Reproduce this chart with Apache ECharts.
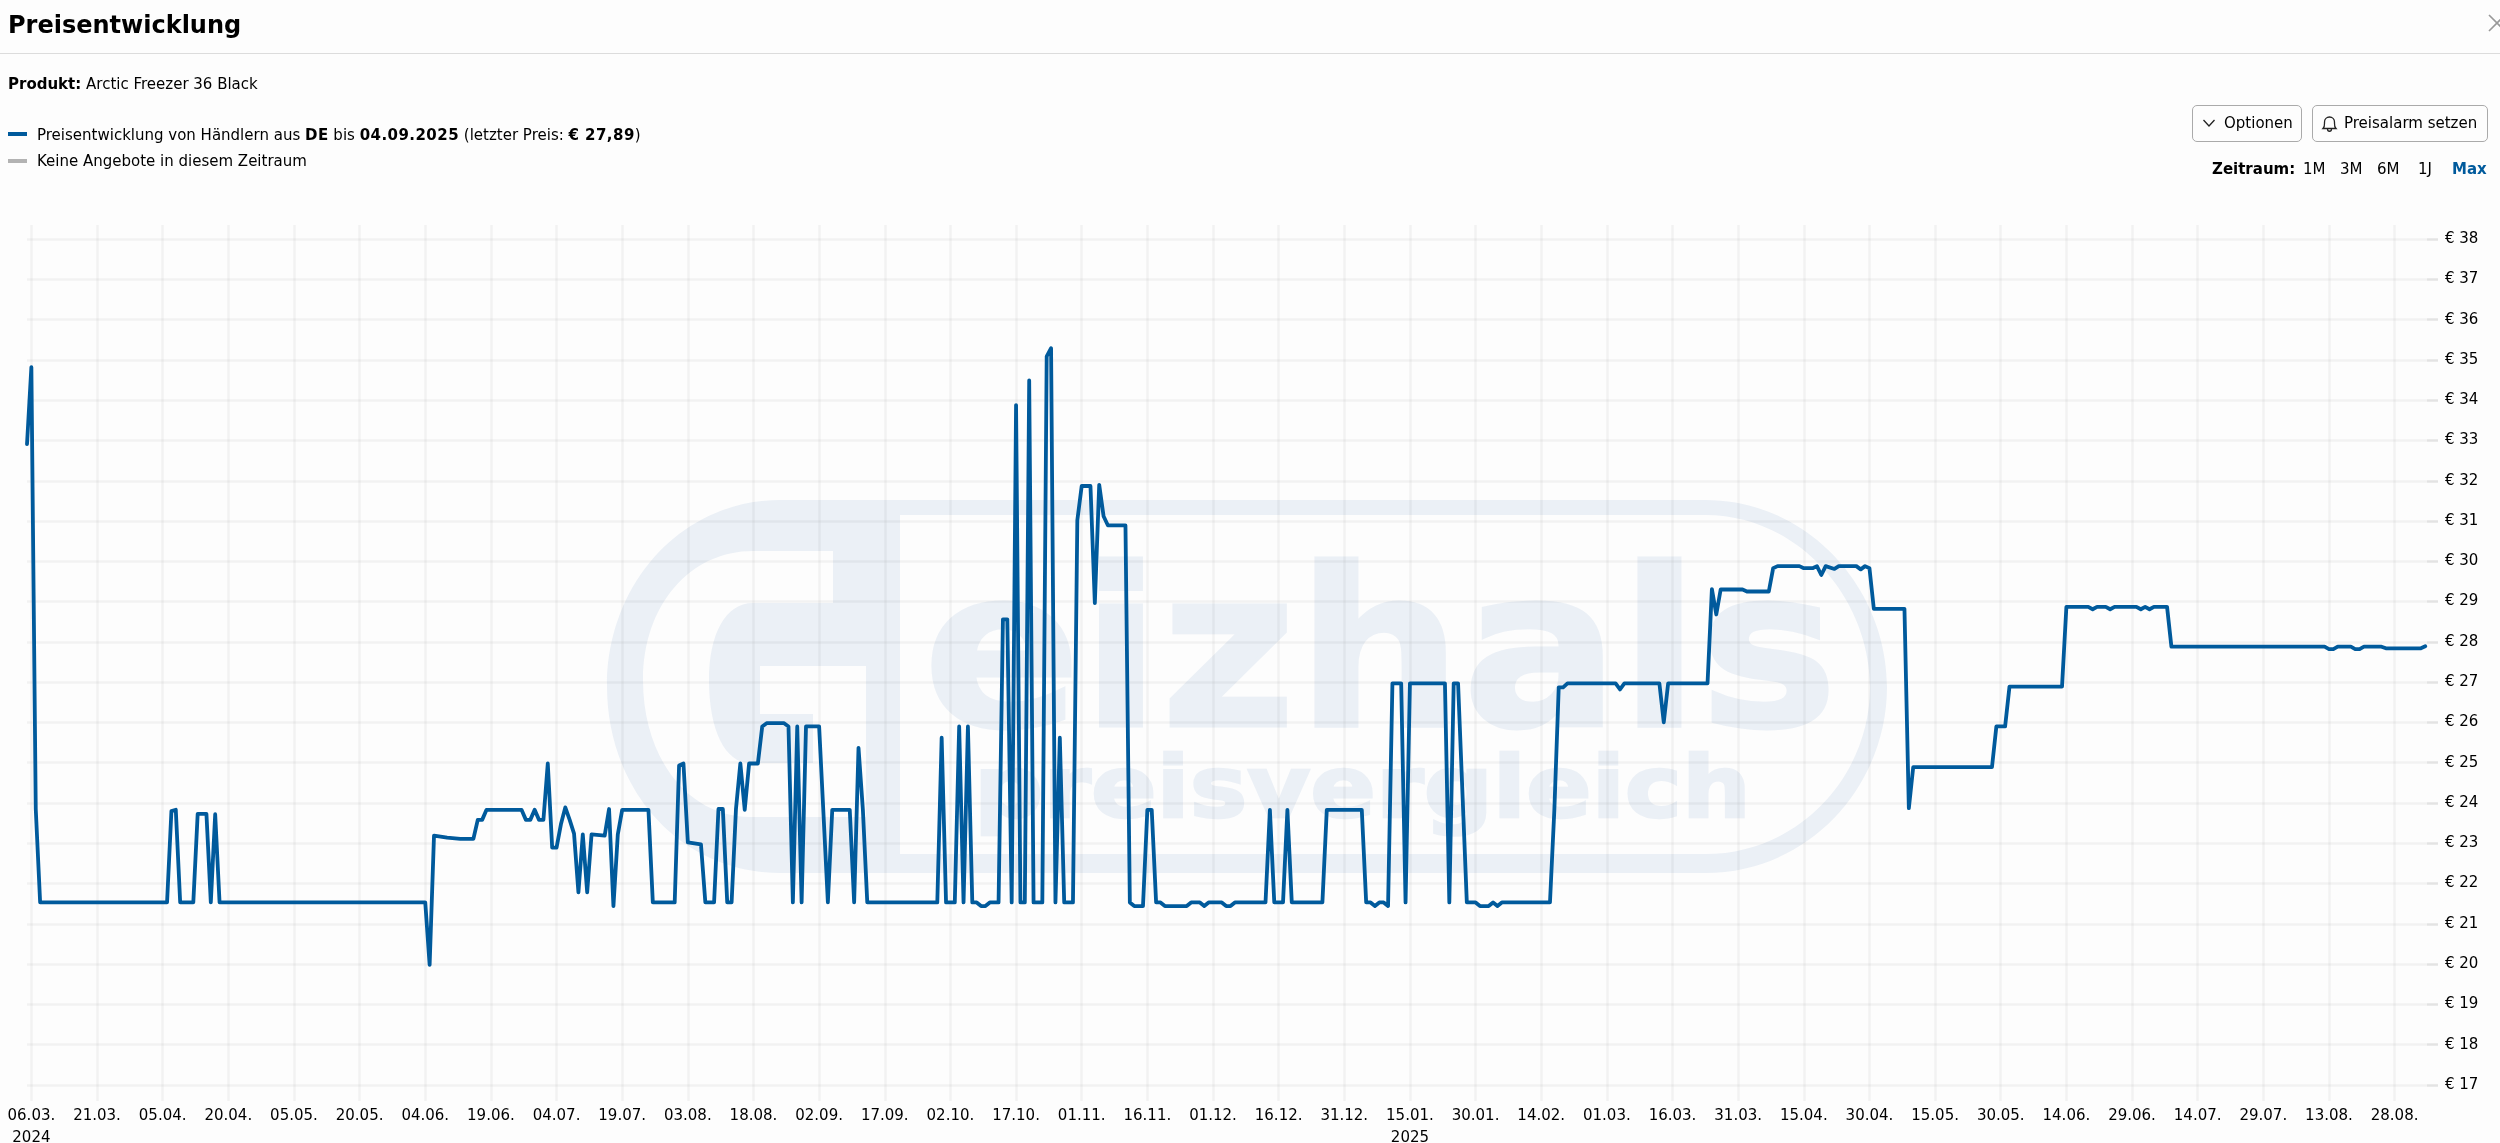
<!DOCTYPE html>
<html lang="de">
<head>
<meta charset="utf-8">
<title>Preisentwicklung</title>
<script src="https://cdn.jsdelivr.net/npm/echarts@6/dist/echarts.min.js"></script>
<style>
html,body{margin:0;padding:0;background:#fdfdfd;width:2500px;height:1143px;overflow:hidden;font-family:"DejaVu Sans",sans-serif;color:#000;font-size:15px}
#wm,#chart{position:absolute;left:0;top:0;width:2500px;height:1143px}
.t{position:absolute;white-space:nowrap;line-height:20px}
b{font-weight:700}
.ls b{letter-spacing:.45px}
.btn{position:absolute;top:105px;height:35px;border:1px solid #aaa;border-radius:5px;box-sizing:content-box;line-height:35px;white-space:nowrap}
.sw{position:absolute;left:8px;width:19px;height:4px}
</style>
</head>
<body>
<svg id="wm" viewBox="0 0 2500 1143" xmlns="http://www.w3.org/2000/svg">
  <path fill="#ebf0f6" fill-rule="evenodd" d="M781 500 L1705 500 C1810 500 1887 590 1887 687 C1887 785 1810 873 1705 873 L781 873 C680 873 607 790 607 686 C607 585 680 500 781 500 Z
  M900 515 L1705 515 C1800 515 1870 600 1870 687 C1870 775 1800 854 1705 854 L900 854 Z
  M833 551 L753 551 C690 551 643 605 643 680 C643 760 690 817 750 817 L866 817 L866 666 L760 666 L760 714 L813 714 L813 763 L750 763 C725 763 709 730 709 680 C709 635 725 603 753 603 L833 603 Z"/>
  <text x="923" y="726" font-family="DejaVu Sans" font-weight="700" font-size="222" fill="#ebf0f6" stroke="#ebf0f6" stroke-width="3" textLength="915" lengthAdjust="spacingAndGlyphs">eizhals</text>
  <text x="974" y="817" font-family="DejaVu Sans" font-weight="700" font-size="86" fill="#ebf0f6" stroke="#ebf0f6" stroke-width="2.5" textLength="777" lengthAdjust="spacingAndGlyphs">preisvergleich</text>
</svg>
<div id="chart"></div>

<div class="t" style="left:8px;top:10px;font-size:24px;font-weight:700;line-height:30px">Preisentwicklung</div>
<div style="position:absolute;left:0;top:53px;width:2500px;height:1px;background:#dcdcdc"></div>
<svg style="position:absolute;left:2488px;top:14px" width="12" height="18"><path d="M1 1 L17 17 M17 1 L1 17" stroke="#999" stroke-width="1.6" fill="none"/></svg>
<div class="t" style="left:8px;top:74px"><b>Produkt:</b> Arctic Freezer 36 Black</div>
<div class="sw" style="top:132px;background:#005a9c"></div>
<div class="t ls" style="left:37px;top:125px">Preisentwicklung von Händlern aus <b>DE</b> bis <b>04.09.2025</b> (letzter Preis: <b>€ 27,89</b>)</div>
<div class="sw" style="top:159px;background:#b3b3b3"></div>
<div class="t" style="left:37px;top:151px">Keine Angebote in diesem Zeitraum</div>

<div class="btn" style="left:2192px;width:108px">
  <svg style="position:absolute;left:9px;top:12px" width="14" height="10"><path d="M1.5 2 L7 8 L12.5 2" stroke="#222" stroke-width="1.3" fill="none"/></svg>
  <span style="position:absolute;left:31px">Optionen</span>
</div>
<div class="btn" style="left:2312px;width:174px">
  <svg style="position:absolute;left:8px;top:9px" width="17" height="18"><path d="M2 13.5 C4 11.5 3.5 9 3.5 7 C3.5 4 5.8 2 8.5 2 C11.2 2 13.5 4 13.5 7 C13.5 9 13 11.5 15 13.5 Z M6.5 14 C6.5 17 10.5 17 10.5 14" stroke="#222" stroke-width="1.3" fill="none"/></svg>
  <span style="position:absolute;left:31px">Preisalarm setzen</span>
</div>
<div class="t" style="left:2212px;top:159px;font-weight:700">Zeitraum:</div>
<div class="t" style="left:2303px;top:159px">1M</div>
<div class="t" style="left:2340px;top:159px">3M</div>
<div class="t" style="left:2377px;top:159px">6M</div>
<div class="t" style="left:2418px;top:159px">1J</div>
<div class="t" style="left:2452px;top:159px;font-weight:700;color:#005a9c">Max</div>

<script>
const tickLabels = ["06.03.\n2024","21.03.","05.04.","20.04.","05.05.","20.05.","04.06.","19.06.","04.07.","19.07.","03.08.","18.08.","02.09.","17.09.","02.10.","17.10.","01.11.","16.11.","01.12.","16.12.","31.12.","15.01.\n2025","30.01.","14.02.","01.03.","16.03.","31.03.","15.04.","30.04.","15.05.","30.05.","14.06.","29.06.","14.07.","29.07.","13.08.","28.08."];
const tickDays = [0,15,30,45,60,75,90,105,120,135,150,165,180,195,210,225,240,255,270,285,300,315,330,345,360,375,390,405,420,435,450,465,480,495,510,525,540];
const priceTicks = [17,18,19,20,21,22,23,24,25,26,27,28,29,30,31,32,33,34,35,36,37,38];

const days = [-1,0,1,2,31,32,33,34,37,38,40,41,42,43,90,91,92,95,98,101,102,103,104,112,113,114,115,116,117,118,119,120,121,122,123,124,125,126,127,128,131,132,133,134,135,141,142,147,148,149,150,153,154,156,157,158,159,160,161,162,163,164,166,167,168,172,173,174,175,176,177,180,182,183,187,188,189,190,191,207,208,209,211,212,213,214,215,216,217,218,219,221,222,223,224,225,226,227,228,229,231,232,233,234,235,236,238,239,240,242,243,244,245,246,250,251,252,254,255,256,257,258,259,264,265,267,268,269,272,273,274,275,282,283,284,286,287,288,295,296,304,305,306,307,308,309,310,311,313,314,315,323,324,325,326,328,330,331,333,334,335,336,347,348,349,350,351,362,363,364,372,373,374,383,384,385,386,391,392,397,398,399,404,405,407,408,409,410,412,413,417,418,419,420,421,428,429,430,448,449,451,452,464,465,470,471,472,474,475,476,481,482,483,484,485,488,489,524,525,526,527,530,531,532,533,537,538,546,547];
const prices = [32.91,34.82,23.85,21.53,21.53,23.80,23.83,21.53,21.53,23.73,23.73,21.53,23.72,21.53,21.53,19.98,23.19,23.14,23.11,23.11,23.58,23.58,23.83,23.83,23.58,23.58,23.83,23.58,23.58,24.98,22.89,22.89,23.47,23.89,23.58,23.24,21.78,23.22,21.78,23.22,23.19,23.85,21.44,23.22,23.83,23.83,21.53,21.53,24.93,24.98,23.02,22.97,21.53,21.53,23.85,23.85,21.53,21.53,23.85,24.98,23.83,24.98,24.98,25.90,25.98,25.98,25.90,21.53,25.90,21.53,25.90,25.90,21.53,23.83,23.83,21.53,25.37,23.83,21.53,21.53,25.62,21.53,21.53,25.90,21.53,25.90,21.53,21.53,21.44,21.44,21.53,21.53,28.56,28.56,21.53,33.88,21.53,21.53,34.49,21.53,21.53,35.09,35.29,21.53,25.62,21.53,21.53,31.02,31.87,31.87,28.96,31.90,31.12,30.89,30.89,21.53,21.44,21.44,23.83,23.83,21.53,21.53,21.44,21.44,21.53,21.53,21.44,21.53,21.53,21.44,21.44,21.53,21.53,23.83,21.53,21.53,23.83,21.53,21.53,23.83,23.83,21.53,21.53,21.44,21.53,21.53,21.44,26.97,26.97,21.53,26.97,26.97,21.53,26.97,26.97,21.53,21.53,21.44,21.44,21.53,21.44,21.53,21.53,23.83,26.87,26.87,26.97,26.97,26.82,26.97,26.97,26.00,26.97,26.97,29.31,28.68,29.30,29.30,29.25,29.25,29.83,29.88,29.88,29.83,29.83,29.88,29.66,29.88,29.81,29.88,29.88,29.80,29.88,29.83,28.82,28.82,23.87,24.89,24.89,25.90,25.90,26.89,26.89,28.87,28.87,28.81,28.87,28.87,28.81,28.87,28.87,28.81,28.87,28.81,28.87,28.87,27.88,27.88,27.82,27.82,27.88,27.88,27.82,27.82,27.88,27.88,27.84,27.84,27.89];

const chart = echarts.init(document.getElementById('chart'), null, {renderer:'canvas', width:2500, height:1143});
const gridLine = {show:true, lineStyle:{color:'rgba(0,0,0,0.045)', width:2.5}};
chart.setOption({
  animation:false,
  backgroundColor:'transparent',
  grid:{left:27, top:225, width:2400, height:876, containLabel:false, outerBoundsMode:'none'},
  xAxis:{
    type:'value', min:-1, max:547.4, scale:true,
    axisLine:{show:false, onZero:false},
    axisTick:{show:false, customValues:tickDays},
    splitLine:Object.assign({customValues:tickDays}, gridLine),
    axisLabel:{
      customValues:tickDays, margin:4, color:'#000', fontFamily:'DejaVu Sans', fontSize:15, lineHeight:22,
      hideOverlap:false, showMinLabel:true, showMaxLabel:true,
      formatter:function(v){ return tickLabels[tickDays.indexOf(v)] || ''; }
    }
  },
  yAxis:{
    type:'value', position:'right', min:16.6, max:38.35, scale:true,
    axisLine:{show:false, onZero:false},
    axisTick:{show:true, length:11, customValues:priceTicks, lineStyle:{color:'rgba(0,0,0,0.1)', width:2.5}},
    splitLine:Object.assign({customValues:priceTicks}, gridLine),
    axisLabel:{
      customValues:priceTicks, margin:18, color:'#000', fontFamily:'DejaVu Sans', fontSize:15, padding:[2,0,0,0],
      formatter:function(v){ return '€ ' + v; }
    }
  },
  series:[{
    type:'line', showSymbol:false, clip:false, silent:true, smooth:false,
    lineStyle:{color:'#005a9c', width:3.8, join:'round', cap:'round'},
    data:days.map(function(d,i){ return [d, prices[i]]; })
  }]
});
</script>
</body>
</html>
